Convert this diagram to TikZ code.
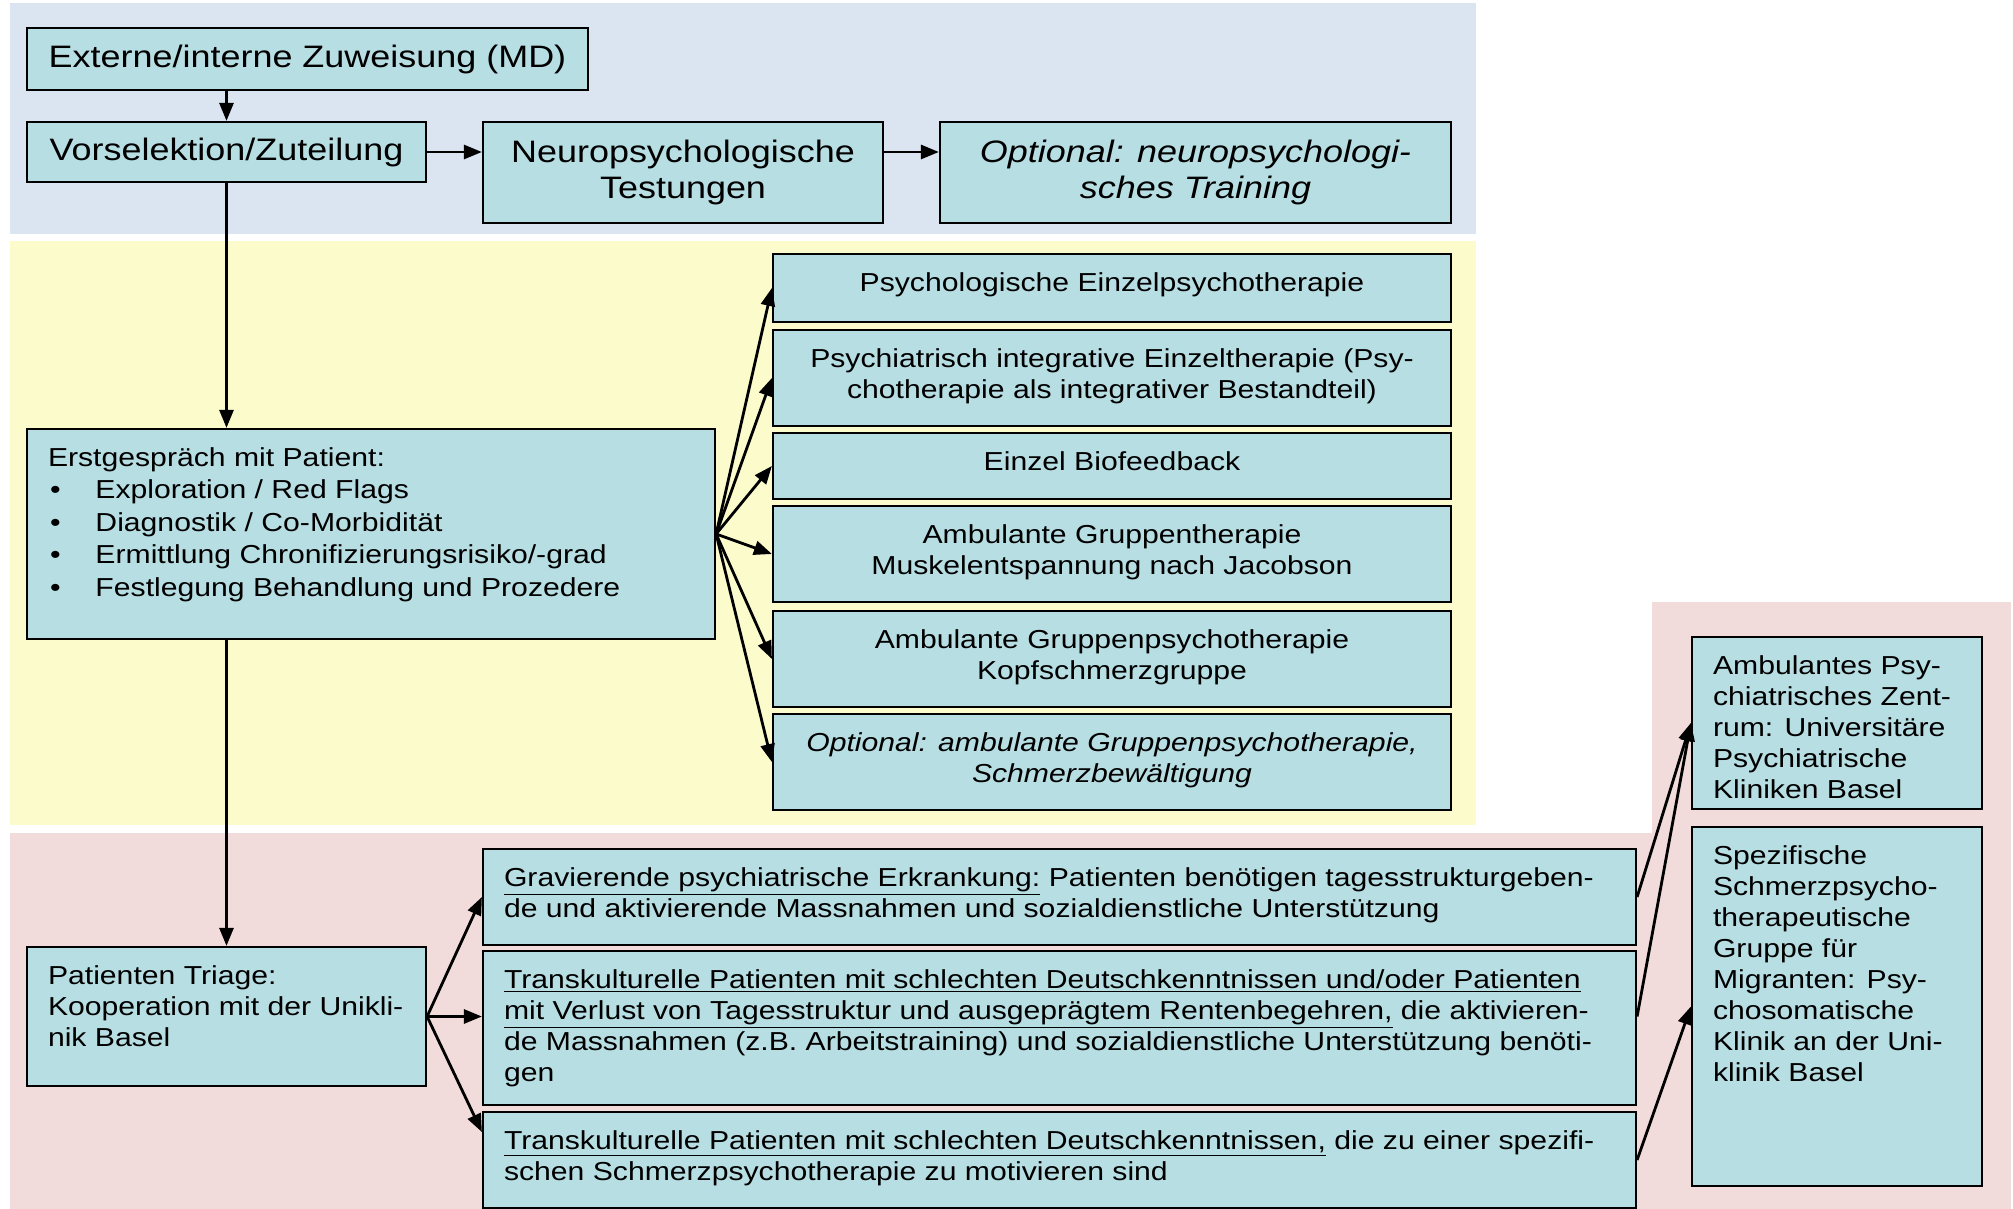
\documentclass[tikz,border=0pt]{standalone}
\usepackage{fontspec}
\setmainfont{Liberation Sans}[FakeStretch=1.16]
\usepackage{xcolor}
\usepackage{tikz}
\usetikzlibrary{arrows.meta}

\definecolor{bandblue}{HTML}{DBE5F1}
\definecolor{bandyellow}{HTML}{FBFBCC}
\definecolor{bandpink}{HTML}{F2DBDB}
\definecolor{boxfill}{HTML}{B7DEE3}

\newcommand{\smallfnt}{\fontsize{13}{15.5}\selectfont}
\newcommand{\bigfnt}{\fontsize{15.5}{18}\selectfont}
% top aligned cell: width, height, alignment, text
\newcommand{\cell}[4]{\parbox[c][#2][t]{#1}{#3\rule{0pt}{18.5pt}#4}}
\newcommand{\bul}{\makebox[23.75pt][l]{\hspace{1pt}\textbullet}}

\begin{document}
\begin{tikzpicture}[x=0.5pt,y=-0.5pt,
	box/.style={draw=black,fill=boxfill,line width=1.1pt,inner xsep=10.5pt,inner ysep=0pt,font=\smallfnt},
	bigbox/.style={box,font=\bigfnt,align=center},
	arr/.style={-{Triangle[length=9pt,width=7pt]},line width=1.4pt}]
	\useasboundingbox (0,0) rectangle (2013,1209);
	% bands
	\fill[bandblue] (10,3) rectangle (1476,234);
	\fill[bandyellow] (10,241) rectangle (1476,825);
	\fill[bandpink] (10,833) rectangle (1652,1209);
	\fill[bandpink] (1652,602) rectangle (2011,1209);

	\node[bigbox,minimum width=280.5pt,minimum height=31pt] (zuw) at (307.5,59) {Externe/interne Zuweisung (MD)};
	\node[bigbox,minimum width=199.5pt,minimum height=30pt] (vor) at (226.5,152) {Vorselektion/Zuteilung};
	\node[bigbox,minimum width=200pt,minimum height=50.5pt] (neu) at (683,172.5) {Neuropsychologische\\Testungen};
	\node[bigbox,minimum width=255.5pt,minimum height=50.5pt,font=\bigfnt\itshape] (trn) at (1195.5,172.5) {Optional: neuropsychologi-\\sches Training};

	\node[box] (pe) at (1112,288) {\cell{318pt}{34pt}{\centering}{Psychologische Einzelpsychotherapie}};
	\node[box] (pi) at (1112,378) {\cell{318pt}{48pt}{\centering}{Psychiatrisch integrative Einzeltherapie (Psy-\\chotherapie als integrativer Bestandteil)}};
	\node[box] (bf) at (1112,466) {\cell{318pt}{33pt}{\centering}{Einzel Biofeedback}};
	\node[box] (gt) at (1112,554) {\cell{318pt}{48pt}{\centering}{Ambulante Gruppentherapie\\Muskelentspannung nach Jacobson}};
	\node[box] (gp) at (1112,659) {\cell{318pt}{48pt}{\centering}{Ambulante Gruppenpsychotherapie\\Kopfschmerzgruppe}};
	\node[box] (oa) at (1112,762) {\cell{318pt}{48pt}{\centering\itshape}{Optional: ambulante Gruppenpsychotherapie,\\Schmerzbewältigung}};

	\node[box] (erst) at (371,534) {\cell{323pt}{105pt}{\raggedright\fontsize{13}{16.3}\selectfont}{Erstgespräch mit Patient:\\
		\bul Exploration / Red Flags\\
		\bul Diagnostik / Co-Morbidität\\
		\bul Ermittlung Chronifizierungsrisiko/-grad\\
		\bul Festlegung Behandlung und Prozedere}};

	\node[box] (tri) at (226.5,1016.5) {\cell{178.5pt}{69.5pt}{\raggedright}{Patienten Triage:\\Kooperation mit der Unikli-\\nik Basel}};

	\node[box] (grav) at (1059.5,897) {\cell{555.5pt}{48pt}{\raggedright}{\underline{Gravierende psychiatrische Erkrankung:} Patienten benötigen tagesstrukturgeben-\\de und aktivierende Massnahmen und sozialdienstliche Unterstützung}};
	\node[box] (tka) at (1059.5,1028) {\cell{555.5pt}{77pt}{\raggedright}{\underline{Transkulturelle Patienten mit schlechten Deutschkenntnissen und/oder Patienten}\\
		\underline{mit Verlust von Tagesstruktur und ausgeprägtem Rentenbegehren,} die aktivieren-\\
		de Massnahmen (z.B. Arbeitstraining) und sozialdienstliche Unterstützung benöti-\\gen}};
	\node[box] (tkb) at (1059.5,1160) {\cell{555.5pt}{48pt}{\raggedright}{\underline{Transkulturelle Patienten mit schlechten Deutschkenntnissen,} die zu einer spezifi-\\schen Schmerzpsychotherapie zu motivieren sind}};

	\node[box] (upk) at (1837,723) {\cell{124pt}{86pt}{\raggedright}{Ambulantes Psy-\\chiatrisches Zent-\\rum: Universitäre\\Psychiatrische\\Kliniken Basel}};
	\node[box] (psk) at (1837,1006.5) {\cell{124pt}{179.5pt}{\raggedright}{Spezifische\\Schmerzpsycho-\\therapeutische\\Gruppe für\\Migranten: Psy-\\chosomatische\\Klinik an der Uni-\\klinik Basel}};

	\draw[arr] (zuw.south -| vor.north) -- (vor.north);
	\draw[arr] (vor.east) -- (vor.east -| neu.west);
	\draw[arr] (neu.east |- vor.east) -- (trn.west |- vor.east);
	\draw[arr] (vor.south) -- (vor.south |- erst.north);
	\draw[arr] (erst.south -| tri.north) -- (tri.north);
	\foreach \t in {pe,pi,bf,gt,gp,oa}{
		\draw[arr] (erst.east) -- (\t.west);
	}
	\draw[arr] (tri.east) -- (grav.west);
	\draw[arr] (tri.east) -- (tka.west |- tri.east);
	\draw[arr] (tri.east) -- ([yshift=14pt]tkb.west);
	\draw[arr] (grav.east) -- (upk.west);
	\draw[arr] (tka.east |- tri.east) -- (upk.west);
	\draw[arr] (tkb.east) -- (psk.west);
\end{tikzpicture}
\end{document}
